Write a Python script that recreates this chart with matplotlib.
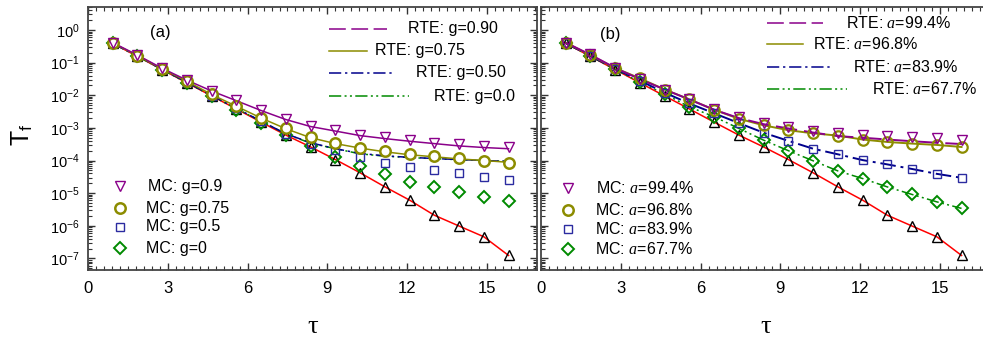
import matplotlib
matplotlib.use("Agg")
import matplotlib.pyplot as plt
from matplotlib.lines import Line2D
from matplotlib.ticker import LogLocator, MultipleLocator, NullFormatter, FixedLocator
import numpy as np

plt.rcParams['font.family'] = ['Liberation Sans', 'DejaVu Sans']
plt.rcParams['mathtext.fontset'] = 'custom'
plt.rcParams['mathtext.rm'] = 'Liberation Sans'
plt.rcParams['mathtext.it'] = 'Liberation Serif:italic'
plt.rcParams['mathtext.bf'] = 'Liberation Sans:bold'

# ---------------- data ----------------
tau = [0.93, 1.86, 2.79, 3.72, 4.65, 5.58, 6.51, 7.44, 8.37, 9.30,
       10.23, 11.16, 12.09, 13.02, 13.95, 14.88, 15.81]

# ballistic (black triangles / red line), same in both panels
ballistic = [0.39, 0.155, 0.061, 0.024, 0.0095, 0.0038, 0.0015, 6.0e-4, 2.6e-4, 1.07e-4,
             4.2e-5, 1.56e-5, 6.1e-6, 2.1e-6, 9.8e-7, 4.6e-7, 1.23e-7]

# panel (a): MC
mc_a_g090 = [0.41, 0.17, 0.067, 0.029, 0.0138, 0.0071, 0.0035, 0.0019, 0.00114, 8.5e-4,
             6.0e-4, 5.1e-4, 4.2e-4, 3.5e-4, 3.1e-4, 2.8e-4, 2.6e-4]
mc_a_g075 = [0.40, 0.165, 0.064, 0.027, 0.0107, 0.0047, 0.0020, 9.6e-4, 5.3e-4, 3.5e-4,
             2.5e-4, 1.94e-4, 1.6e-4, 1.39e-4, 1.16e-4, 1.0e-4, 8.5e-5]
mc_a_g050 = [0.39, 0.158, 0.062, 0.025, 0.0098, 0.0040, 0.0016, 6.5e-4, 3.3e-4, 2.1e-4,
             1.3e-4, 8.5e-5, 6.4e-5, 5.1e-5, 4.0e-5, 3.2e-5, 2.6e-5]
mc_a_g000 = [0.39, 0.155, 0.061, 0.024, 0.0093, 0.0036, 0.00145, 6.0e-4, 2.8e-4, 1.3e-4,
             6.9e-5, 3.8e-5, 2.2e-5, 1.5e-5, 1.05e-5, 7.7e-6, 5.6e-6]
# panel (a): RTE
rte_a_g090 = [0.41, 0.17, 0.067, 0.029, 0.0135, 0.0068, 0.0034, 0.0018, 0.0011, 8.0e-4,
              5.8e-4, 4.7e-4, 3.9e-4, 3.3e-4, 2.8e-4, 2.5e-4, 2.3e-4]
rte_a_g075 = [0.40, 0.165, 0.064, 0.027, 0.0105, 0.0046, 0.0020, 9.4e-4, 5.0e-4, 3.3e-4,
              2.4e-4, 1.85e-4, 1.5e-4, 1.3e-4, 1.12e-4, 1.0e-4, 8.8e-5]
rte_a_g050 = [0.39, 0.158, 0.062, 0.025, 0.0098, 0.0040, 0.0016, 6.6e-4, 3.5e-4, 2.3e-4,
              1.65e-4, 1.39e-4, 1.25e-4, 1.15e-4, 1.07e-4, 1.0e-4, 9.4e-5]
rte_a_g000 = [0.39, 0.156, 0.061, 0.024, 0.0096, 0.0039, 0.0016, 6.5e-4, 3.4e-4, 2.3e-4,
              1.6e-4, 1.36e-4, 1.23e-4, 1.14e-4, 1.06e-4, 1.0e-4, 9.4e-5]

# panel (b): MC
mc_b_a994 = [0.41, 0.18, 0.070, 0.031, 0.015, 0.0075, 0.0037, 0.0021, 0.0014, 0.00103,
             8.0e-4, 6.8e-4, 6.0e-4, 5.6e-4, 5.1e-4, 4.8e-4, 4.4e-4]
mc_b_a968 = [0.41, 0.17, 0.068, 0.033, 0.015, 0.0075, 0.0036, 0.0019, 0.0012, 8.5e-4,
             6.8e-4, 5.8e-4, 4.4e-4, 3.7e-4, 3.3e-4, 3.0e-4, 2.6e-4]
mc_b_a839 = [0.40, 0.16, 0.065, 0.028, 0.012, 0.0056, 0.0028, 0.0014, 7.1e-4, 4.0e-4,
             2.3e-4, 1.55e-4, 1.03e-4, 7.6e-5, 5.5e-5, 3.9e-5, 2.95e-5]
mc_b_a677 = [0.39, 0.157, 0.062, 0.025, 0.0110, 0.0044, 0.0022, 9.6e-4, 4.2e-4, 2.0e-4,
             9.8e-5, 4.8e-5, 2.8e-5, 1.55e-5, 9.1e-6, 5.4e-6, 3.4e-6]
# panel (b): RTE
rte_b_a994 = [0.41, 0.175, 0.069, 0.031, 0.015, 0.0074, 0.0036, 0.0020, 0.0013, 9.6e-4,
              7.2e-4, 5.6e-4, 5.0e-4, 4.4e-4, 3.9e-4, 3.5e-4, 3.2e-4]
rte_b_a968 = mc_b_a968
rte_b_a839 = mc_b_a839
rte_b_a677 = mc_b_a677

xticks = [0, 3, 6, 9, 12, 15]

# ---------------- styles ----------------
PURPLE = '#8a008a'
OLIVE = '#8c8c00'
NAVY = '#00008c'
SQBLUE = '#2b2ba0'
GREEN = '#008a00'
RED = '#ff0000'

DASH = (0, (11, 3.6))
DASHDOT = (0, (8, 2.5, 1.5, 2.5))
DASHDOTDOT = (0, (8, 2.2, 1.3, 2.2, 1.3, 2.2))

W, H = 983, 337
fig = plt.figure(figsize=(W / 100, H / 100), dpi=100)

def fx(x):
    return x / W

def fy(y):
    return 1 - y / H

ax_a = fig.add_axes([fx(88), fy(270), 449 / W, 263 / H])
ax_b = fig.add_axes([fx(541), fy(270), 449 / W, 263 / H])

for ax in (ax_a, ax_b):
    ax.set_yscale('log')
    ax.set_xlim(0, 16.88)
    ax.set_ylim(4.4e-8, 5.08)
    ax.xaxis.set_major_locator(FixedLocator(xticks))
    ax.xaxis.set_minor_locator(MultipleLocator(0.3))
    ax.yaxis.set_major_locator(LogLocator(base=10, numticks=20))
    ax.yaxis.set_minor_locator(LogLocator(base=10, subs=np.arange(2, 10), numticks=20))
    ax.yaxis.set_minor_formatter(NullFormatter())
    ax.tick_params(which='both', direction='in', top=True, right=True, colors='#333333')
    ax.tick_params(which='major', length=5, width=1.0, labelsize=12, labelcolor='black')
    ax.tick_params(which='minor', length=3, width=0.8)
    ax.tick_params(axis='x', pad=8)
    for s in ax.spines.values():
        s.set_linewidth(1.3)
        s.set_color('#444444')
    ax.set_xlabel('τ', fontsize=19, family='Liberation Serif', labelpad=14)

ax_a.tick_params(axis='y', labelsize=10.5, pad=6)
ax_b.tick_params(axis='y', labelleft=False)

mk_common = dict(linestyle='none', clip_on=False)

# ----- panel (a) -----
ax_a.plot(tau, ballistic, color=RED, lw=1.1, zorder=2)
ax_a.plot(tau, rte_a_g000, color=GREEN, lw=1.1, linestyle=DASHDOTDOT, zorder=2)
ax_a.plot(tau, rte_a_g050, color=NAVY, lw=1.1, linestyle=DASHDOT, zorder=2)
ax_a.plot(tau, rte_a_g075, color=OLIVE, lw=1.1, zorder=2)
ax_a.plot(tau, rte_a_g090, color=PURPLE, lw=1.1, zorder=2)
ax_a.plot(tau, ballistic, marker='^', ms=7, mfc='none', mec='black', mew=1.0, zorder=3, **mk_common)
ax_a.plot(tau, mc_a_g000, marker='D', ms=6, mfc='none', mec=GREEN, mew=1.4, zorder=3, **mk_common)
ax_a.plot(tau, mc_a_g050, marker='s', ms=5.5, mfc='none', mec=SQBLUE, mew=1.0, zorder=3, **mk_common)
ax_a.plot(tau, mc_a_g075, marker='o', ms=7.5, mfc='white', mec=OLIVE, mew=1.8, zorder=4, **mk_common)
ax_a.plot(tau, mc_a_g090, marker='v', ms=7.5, mfc='none', mec=PURPLE, mew=1.0, zorder=4, **mk_common)

# ----- panel (b) -----
ax_b.plot(tau, ballistic, color=RED, lw=1.1, zorder=2)
ax_b.plot(tau, rte_b_a677, color=GREEN, lw=1.1, linestyle=DASHDOTDOT, zorder=2)
ax_b.plot(tau, rte_b_a839, color=NAVY, lw=1.4, linestyle=DASHDOT, zorder=2)
ax_b.plot(tau, rte_b_a968, color=OLIVE, lw=1.4, zorder=2)
ax_b.plot(tau, rte_b_a994, color=PURPLE, lw=1.4, linestyle=DASH, zorder=2)
ax_b.plot(tau, ballistic, marker='^', ms=7, mfc='none', mec='black', mew=1.0, zorder=3, **mk_common)
ax_b.plot(tau, mc_b_a677, marker='D', ms=6, mfc='none', mec=GREEN, mew=1.4, zorder=3, **mk_common)
ax_b.plot(tau, mc_b_a839, marker='s', ms=5.5, mfc='none', mec=SQBLUE, mew=1.0, zorder=3, **mk_common)
ax_b.plot(tau, mc_b_a968, marker='o', ms=7.5, mfc='none', mec=OLIVE, mew=1.6, zorder=3, **mk_common)
ax_b.plot(tau, mc_b_a994, marker='v', ms=7.5, mfc='none', mec=PURPLE, mew=1.0, zorder=4, **mk_common)

# ----- labels -----
fig.text(fx(22), fy(135), r'T$_\mathregular{f}$', rotation=90, fontsize=18, ha='center', va='center')
fig.text(fx(150), fy(33), '(a)', fontsize=12, ha='left', va='center')
fig.text(fx(600), fy(35), '(b)', fontsize=12, ha='left', va='center')

LEG_FS = 11.5

def leg_line(x0, x1, y, **kw):
    fig.add_artist(Line2D([fx(x0), fx(x1)], [fy(y), fy(y)], transform=fig.transFigure, **kw))

def leg_marker(x, y, **kw):
    fig.add_artist(Line2D([fx(x)], [fy(y)], transform=fig.transFigure, linestyle='none', **kw))

def leg_text(x, y, s):
    fig.text(fx(x), fy(y), s, fontsize=LEG_FS, ha='left', va='center')

# RTE legend (a)
leg_line(329, 387, 29, color=PURPLE, lw=1.1, linestyle=DASH)
leg_text(408, 29, 'RTE: g=0.90')
leg_line(329, 367, 51, color=OLIVE, lw=1.1)
leg_text(375, 51, 'RTE: g=0.75')
leg_line(329, 395, 73, color=NAVY, lw=1.1, linestyle=DASHDOT)
leg_text(416, 73, 'RTE: g=0.50')
leg_line(329, 409, 96, color=GREEN, lw=1.1, linestyle=DASHDOTDOT)
leg_text(434, 96, 'RTE: g=0.0')

# MC legend (a)
leg_marker(120, 186, marker='v', ms=7.5, mfc='none', mec=PURPLE, mew=1.0)
leg_text(148, 186, 'MC: g=0.9')
leg_marker(120, 208, marker='o', ms=7.5, mfc='none', mec=OLIVE, mew=1.8)
leg_text(146, 208, 'MC: g=0.75')
leg_marker(120, 227, marker='s', ms=5.5, mfc='none', mec=SQBLUE, mew=1.0)
leg_text(146, 227, 'MC: g=0.5')
leg_marker(120, 248, marker='D', ms=6, mfc='none', mec=GREEN, mew=1.4)
leg_text(146, 248, 'MC: g=0')

# RTE legend (b)
leg_line(767, 823, 23, color=PURPLE, lw=1.1, linestyle=DASH)
leg_text(846, 23, 'RTE: $a$=99.4%')
leg_line(767, 803, 44, color=OLIVE, lw=1.1)
leg_text(813, 44, 'RTE: $a$=96.8%')
leg_line(767, 832, 67, color=NAVY, lw=1.1, linestyle=DASHDOT)
leg_text(853, 67, 'RTE: $a$=83.9%')
leg_line(767, 847, 89, color=GREEN, lw=1.1, linestyle=DASHDOTDOT)
leg_text(872, 89, 'RTE: $a$=67.7%')

# MC legend (b)
leg_marker(568, 188, marker='v', ms=7.5, mfc='none', mec=PURPLE, mew=1.0)
leg_text(596, 188, 'MC: $a$=99.4%')
leg_marker(568, 210, marker='o', ms=7.5, mfc='none', mec=OLIVE, mew=1.8)
leg_text(595, 210, 'MC: $a$=96.8%')
leg_marker(568, 229, marker='s', ms=5.5, mfc='none', mec=SQBLUE, mew=1.0)
leg_text(595, 229, 'MC: $a$=83.9%')
leg_marker(568, 249, marker='D', ms=6, mfc='none', mec=GREEN, mew=1.4)
leg_text(595, 249, 'MC: $a$=67.7%')

fig.savefig('out.png', dpi=100)
